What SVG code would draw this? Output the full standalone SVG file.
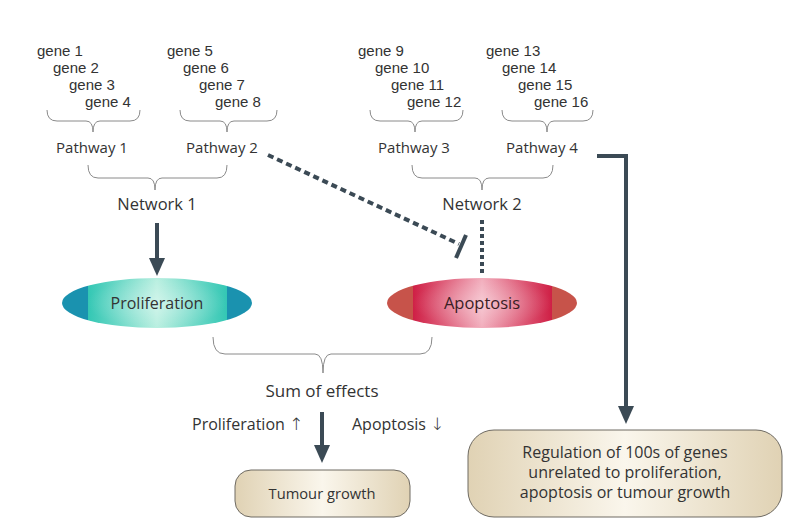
<svg xmlns="http://www.w3.org/2000/svg" width="800" height="529" viewBox="0 0 800 529">
<style>
text{font-family:"Open Sans","Liberation Sans",sans-serif;font-size:15px;fill:#333;}
.g{font-family:"Liberation Sans",Arial,sans-serif;font-size:15px;}
.c{text-anchor:middle;}
.ar{font-family:"DejaVu Sans",sans-serif;font-weight:200;}
.brace{fill:none;stroke:#8a8a8a;stroke-width:1;}
.conn{fill:none;stroke:#3b4a55;stroke-width:4;}
.box{stroke:#6e6a62;stroke-width:1;fill:url(#beige);}
</style>
<defs>
<marker id="ah" viewBox="0 0 18 16" markerWidth="18" markerHeight="16" refX="1" refY="8" orient="auto" markerUnits="userSpaceOnUse">
<path d="M0,0 L18,8 L0,16 z" fill="#3b4a55"/>
</marker>
<linearGradient id="teal" x1="0" y1="0" x2="1" y2="0">
<stop offset="0" stop-color="#1a92af"/><stop offset="0.137" stop-color="#1a92af"/>
<stop offset="0.137" stop-color="#33c7b4"/><stop offset="0.5" stop-color="#b9efe0"/>
<stop offset="0.868" stop-color="#33c7b4"/><stop offset="0.868" stop-color="#1a92af"/>
<stop offset="1" stop-color="#1a92af"/>
</linearGradient>
<linearGradient id="red" x1="0" y1="0" x2="1" y2="0">
<stop offset="0" stop-color="#c7534a"/><stop offset="0.137" stop-color="#c7534a"/>
<stop offset="0.137" stop-color="#cf1f45"/><stop offset="0.5" stop-color="#f2aebd"/>
<stop offset="0.868" stop-color="#cf1f45"/><stop offset="0.868" stop-color="#c7534a"/>
<stop offset="1" stop-color="#c7534a"/>
</linearGradient>
<radialGradient id="shade" cx="0.5" cy="0.5" r="0.5">
<stop offset="0" stop-color="#ffffff" stop-opacity="0.35"/>
<stop offset="1" stop-color="#ffffff" stop-opacity="0"/>
</radialGradient>
<linearGradient id="beige" x1="0" y1="0" x2="1" y2="0">
<stop offset="0" stop-color="#e0d2b4"/><stop offset="0.5" stop-color="#faf6ec"/><stop offset="1" stop-color="#e0d2b4"/>
</linearGradient>
</defs>
<rect width="800" height="529" fill="#ffffff"/>

<g id="genes-1-4">
<text class="g" x="37" y="56">gene 1</text>
<text class="g" x="53" y="73">gene 2</text>
<text class="g" x="69" y="90">gene 3</text>
<text class="g" x="85" y="107">gene 4</text>
<path class="brace" d="M47,110 Q47,121 57,121 L86,121 Q93,121 93,132 Q93,121 100,121 L130,121 Q140,121 140,110"/>
</g>
<g id="genes-5-8">
<text class="g" x="167" y="56">gene 5</text>
<text class="g" x="183" y="73">gene 6</text>
<text class="g" x="199" y="90">gene 7</text>
<text class="g" x="215" y="107">gene 8</text>
<path class="brace" d="M180,110 Q180,121 190,121 L220,121 Q227,121 227,132 Q227,121 234,121 L267,121 Q277,121 277,110"/>
</g>
<g id="genes-9-12">
<text class="g" x="358" y="56">gene 9</text>
<text class="g" x="375" y="73">gene 10</text>
<text class="g" x="391" y="90">gene 11</text>
<text class="g" x="407" y="107">gene 12</text>
<path class="brace" d="M370,110 Q370,121 380,121 L408,121 Q415,121 415,132 Q415,121 422,121 L453,121 Q463,121 463,110"/>
</g>
<g id="genes-13-16">
<text class="g" x="486" y="56">gene 13</text>
<text class="g" x="502" y="73">gene 14</text>
<text class="g" x="518" y="90">gene 15</text>
<text class="g" x="534" y="107">gene 16</text>
<path class="brace" d="M502,110 Q502,121 512,121 L540,121 Q547,121 547,132 Q547,121 554,121 L583,121 Q593,121 593,110"/>
</g>

<g id="pathway1"><text x="92" y="153" class="c">Pathway 1</text></g>
<g id="pathway2"><text x="222" y="153" class="c">Pathway 2</text></g>
<g id="pathway3"><text x="414" y="153" class="c">Pathway 3</text></g>
<g id="pathway4"><text x="542" y="153" class="c">Pathway 4</text></g>

<g id="network1">
<path class="brace" d="M88,165 Q88,178 98,178 L148,178 Q155,178 155,190 Q155,178 162,178 L217,178 Q227,178 227,165"/>
<text x="157" y="210" class="c" style="font-size:16.5px">Network 1</text>
</g>
<g id="network2">
<path class="brace" d="M412,165 Q412,178 422,178 L475,178 Q482,178 482,190 Q482,178 489,178 L543,178 Q553,178 553,165"/>
<text x="482" y="210" class="c" style="font-size:16.5px">Network 2</text>
</g>

<g id="proliferation">
<ellipse cx="157" cy="303" rx="95" ry="25" fill="url(#teal)"/>
<ellipse cx="157" cy="303" rx="70" ry="25" fill="url(#shade)"/>
<text x="157" y="309" class="c" style="font-size:16px">Proliferation</text>
</g>
<g id="apoptosis">
<ellipse cx="482" cy="303" rx="95" ry="25" fill="url(#red)"/>
<ellipse cx="482" cy="303" rx="70" ry="25" fill="url(#shade)"/>
<text x="482" y="309" class="c" style="font-size:16.5px;fill:#3a2024">Apoptosis</text>
</g>

<g id="sum">
<path class="brace" d="M213,337 Q213,354 225,354 L315,354 Q323,354 323,373 Q323,354 331,354 L420,354 Q432,354 432,337"/>
<text x="322" y="397" class="c" style="font-size:17px">Sum of effects</text>
<text x="192" y="430" style="font-size:16px">Proliferation <tspan class="ar" style="font-size:17px">↑</tspan></text>
<text x="352" y="430" style="font-size:16px">Apoptosis <tspan class="ar" style="font-size:17px">↓</tspan></text>
</g>

<g id="tumour">
<rect class="box" x="235" y="470" width="175" height="47" rx="16"/>
<text x="322" y="499" class="c" style="font-size:14.7px">Tumour growth</text>
</g>
<g id="regulation">
<rect class="box" x="468" y="430" width="314" height="87" rx="26"/>
<text x="625" y="458" class="c" style="font-size:16px">Regulation of 100s of genes</text>
<text x="625" y="478" class="c" style="font-size:16px">unrelated to proliferation,</text>
<text x="625" y="498" class="c" style="font-size:16px">apoptosis or tumour growth</text>
</g>

<g id="connectors">
<line class="conn" x1="157" y1="223" x2="157" y2="259" marker-end="url(#ah)"/>
<line class="conn" x1="322" y1="412" x2="322" y2="446" marker-end="url(#ah)"/>
<path class="conn" d="M597,156 H626 V407" marker-end="url(#ah)"/>
<line class="conn" x1="482" y1="220" x2="482" y2="274" stroke-dasharray="4,3"/>
<line class="conn" x1="268" y1="155" x2="459" y2="244" stroke-dasharray="6,4"/>
<line class="conn" x1="466" y1="235" x2="456" y2="258"/>
</g>
</svg>
